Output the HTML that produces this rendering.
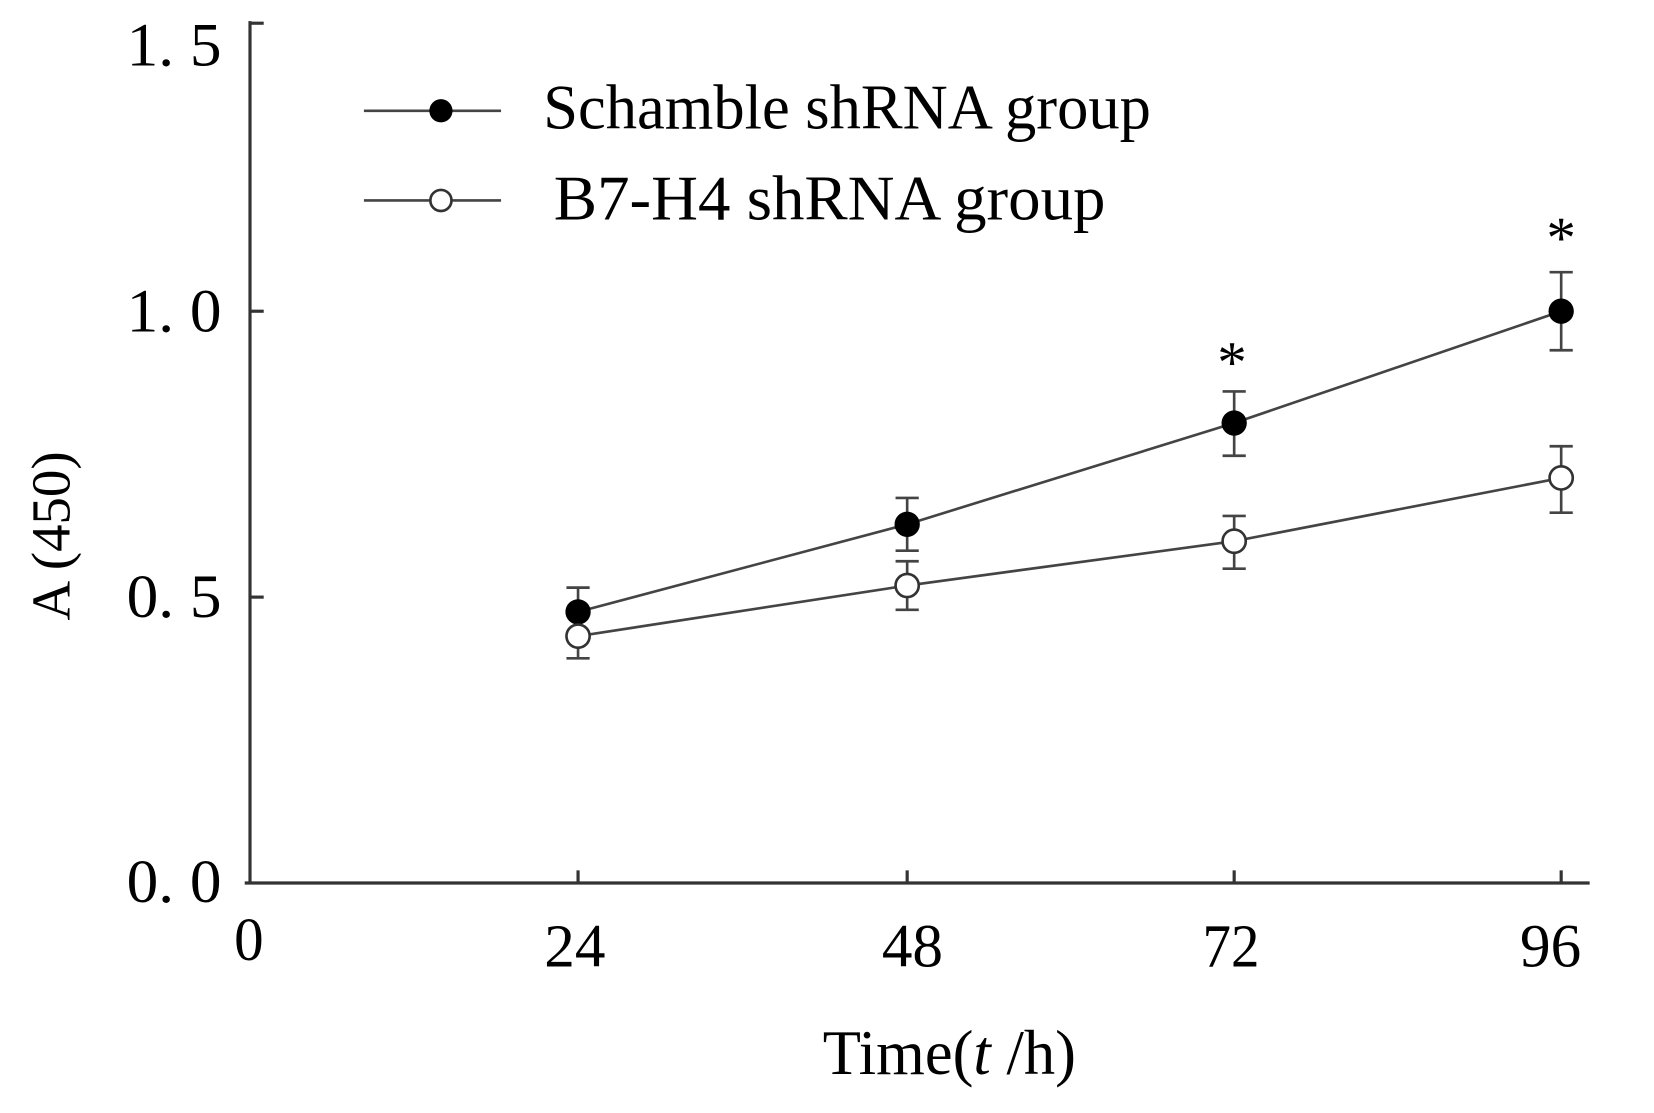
<!DOCTYPE html>
<html><head><style>html,body{margin:0;padding:0;background:#fff;}svg{display:block}</style></head>
<body>
<svg width="1654" height="1113" viewBox="0 0 1568 1055" preserveAspectRatio="none" xmlns="http://www.w3.org/2000/svg" font-family="Liberation Serif, serif" fill="#000">
<rect width="1568" height="1055" fill="#fff"/>
<g stroke="#333" stroke-width="3" fill="none">
<line x1="237" y1="20" x2="237" y2="838"/>
<line x1="232" y1="837" x2="1507" y2="837"/>
<line x1="237" y1="22" x2="250" y2="22"/>
<line x1="237" y1="295" x2="250" y2="295"/>
<line x1="237" y1="566" x2="250" y2="566"/>
<line x1="548" y1="825" x2="548" y2="837"/>
<line x1="860" y1="825" x2="860" y2="837"/>
<line x1="1170" y1="825" x2="1170" y2="837"/>
<line x1="1480" y1="825" x2="1480" y2="837"/>
</g>
<g stroke="#444" stroke-width="2.5" fill="none">
<polyline points="548,580 860,497 1170,401 1480,295"/>
<polyline points="548,603 860,555 1170,513 1480,453"/>
<path d="M548 557V603M537 557H559M537 603H559M860 472V522M849 472H871M849 522H871M1170 371V432M1159 371H1181M1159 432H1181M1480 258V332M1469 258H1491M1469 332H1491"/>
<path d="M548 583V624M537 583H559M537 624H559M860 532V578M849 532H871M849 578H871M1170 489V539M1159 489H1181M1159 539H1181M1480 423V486M1469 423H1491M1469 486H1491"/>
<line x1="345" y1="105" x2="475" y2="105"/>
<line x1="345" y1="190" x2="475" y2="190"/>
</g>
<g fill="#000"><circle cx="548" cy="580" r="12"/><circle cx="860" cy="497" r="12"/><circle cx="1170" cy="401" r="12"/><circle cx="1480" cy="295" r="12"/><circle cx="418" cy="105" r="11"/></g>
<g fill="#fff" stroke="#333" stroke-width="2.5"><circle cx="548" cy="603" r="11"/><circle cx="860" cy="555" r="11"/><circle cx="1170" cy="513" r="11"/><circle cx="1480" cy="453" r="11"/><circle cx="418" cy="190" r="10"/></g>
<g font-size="58">
<text x="120" y="62" textLength="90" lengthAdjust="spacingAndGlyphs">1. 5</text>
<text x="120" y="314" textLength="90" lengthAdjust="spacingAndGlyphs">1. 0</text>
<text x="120" y="585" textLength="90" lengthAdjust="spacingAndGlyphs">0. 5</text>
<text x="120" y="855" textLength="90" lengthAdjust="spacingAndGlyphs">0. 0</text>
<text x="222" y="910" textLength="28" lengthAdjust="spacingAndGlyphs">0</text>
<text x="516" y="916" textLength="58" lengthAdjust="spacingAndGlyphs">24</text>
<text x="836" y="916" textLength="58" lengthAdjust="spacingAndGlyphs">48</text>
<text x="1140" y="916" textLength="54" lengthAdjust="spacingAndGlyphs">72</text>
<text x="1441" y="916" textLength="58" lengthAdjust="spacingAndGlyphs">96</text>
</g>
<text x="780" y="1018" font-size="60" textLength="240" lengthAdjust="spacingAndGlyphs">Time(<tspan font-style="italic">t</tspan> /h)</text>
<text transform="translate(66,508) rotate(-90)" font-size="52" text-anchor="middle">A (450)</text>
<text x="515" y="122" font-size="60" textLength="576" lengthAdjust="spacingAndGlyphs">Schamble shRNA group</text>
<text x="525" y="208" font-size="60" textLength="523" lengthAdjust="spacingAndGlyphs">B7-H4  shRNA group</text>
<text x="1168" y="362" font-size="56" text-anchor="middle">*</text>
<text x="1480" y="244" font-size="56" text-anchor="middle">*</text>
</svg>
</body></html>
